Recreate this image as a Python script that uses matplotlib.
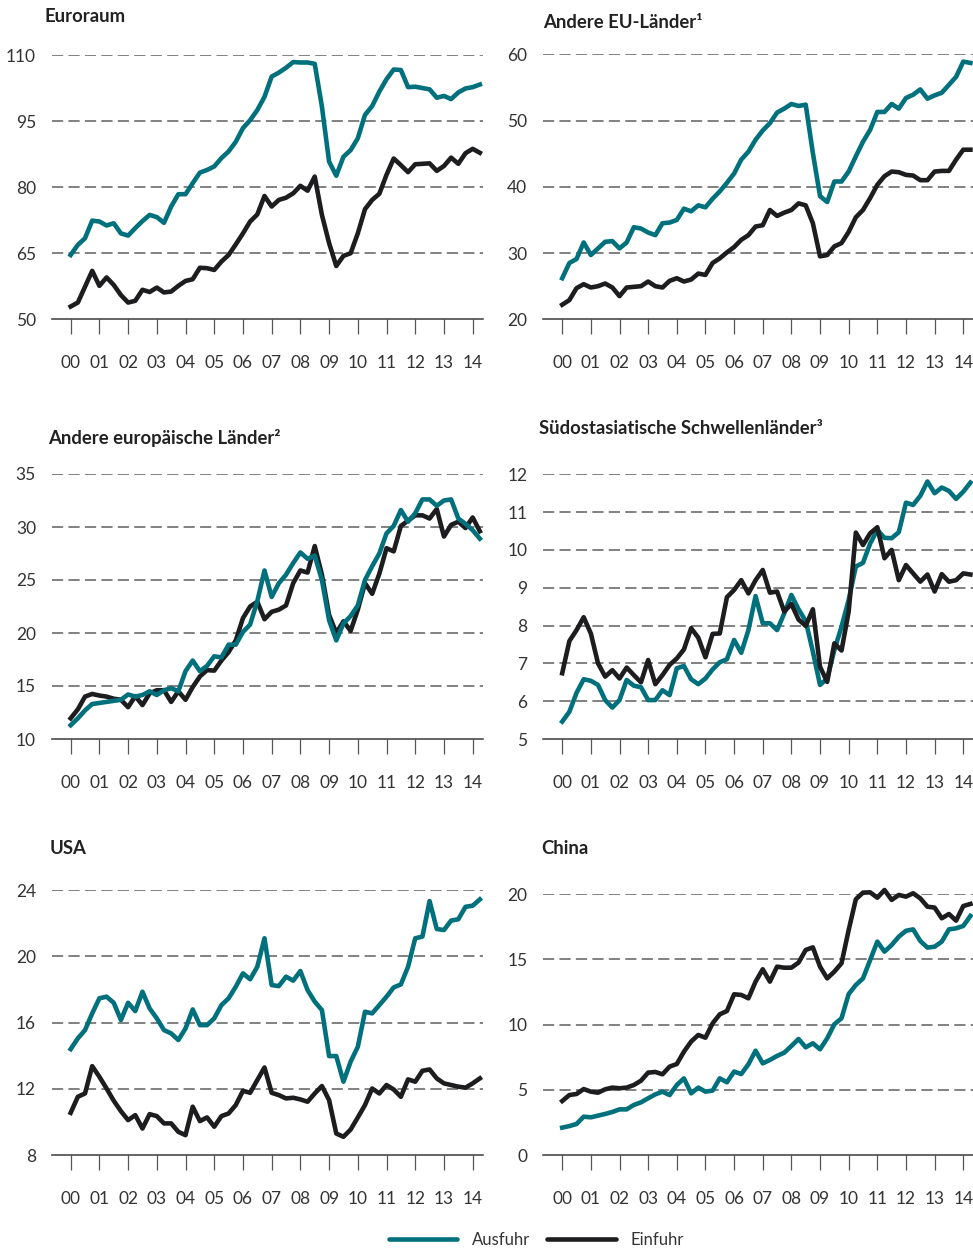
import matplotlib
matplotlib.use('Agg')
import matplotlib.pyplot as plt
import numpy as np

plt.rcParams['font.family'] = ['Lato', 'DejaVu Sans']

# Quartale 2000 Q1 bis 2014 Q2 (x in Jahren ab 2000)
quartale = np.arange(58) * 0.25
jahre = list(range(15))
jahr_labels = [f"{j:02d}" for j in jahre]

euro_aus = [64.6, 66.9, 68.4, 72.4, 72.2, 71.3, 71.8, 69.5, 69.0, 70.7, 72.3, 73.7, 73.2, 71.9, 75.6, 78.4,
            78.4, 80.9, 83.3, 83.9, 84.7, 86.6, 88.1, 90.3, 93.4, 95.2, 97.5, 100.5, 105.1, 106.0, 107.1, 108.4,
            108.3, 108.3, 108.0, 98.3, 85.8, 82.6, 86.9, 88.4, 91.1, 96.4, 98.4, 101.7, 104.5, 106.7, 106.6, 102.7,
            102.8, 102.5, 102.2, 100.3, 100.7, 100.0, 101.5, 102.4, 102.7, 103.3]
euro_ein = [52.9, 53.8, 57.4, 61.0, 57.6, 59.5, 57.8, 55.5, 53.8, 54.2, 56.7, 56.2, 57.2, 56.1, 56.3, 57.6,
            58.7, 59.1, 61.7, 61.6, 61.2, 63.1, 64.6, 67.0, 69.5, 72.2, 73.8, 78.0, 75.6, 77.1, 77.6, 78.6,
            80.3, 79.2, 82.4, 73.7, 67.3, 62.1, 64.4, 65.0, 69.5, 75.0, 77.1, 78.5, 82.8, 86.5, 85.0, 83.4,
            85.2, 85.3, 85.4, 83.7, 84.8, 86.7, 85.3, 87.7, 88.7, 87.8]

eu_aus = [26.2, 28.5, 29.1, 31.6, 29.7, 30.7, 31.7, 31.8, 30.7, 31.6, 33.9, 33.7, 33.1, 32.7, 34.5, 34.6,
          35.0, 36.7, 36.3, 37.2, 36.9, 38.2, 39.3, 40.6, 42.0, 44.1, 45.3, 47.1, 48.5, 49.6, 51.2, 51.8,
          52.5, 52.2, 52.4, 45.1, 38.6, 37.7, 40.8, 40.8, 42.3, 44.6, 46.8, 48.6, 51.3, 51.3, 52.5, 51.8,
          53.4, 53.9, 54.7, 53.3, 53.8, 54.2, 55.4, 56.6, 58.9, 58.7]
eu_ein = [22.2, 22.9, 24.7, 25.3, 24.8, 25.0, 25.4, 24.8, 23.5, 24.8, 24.9, 25.0, 25.7, 25.0, 24.8, 25.8,
          26.2, 25.7, 26.0, 26.9, 26.7, 28.5, 29.2, 30.1, 30.9, 32.0, 32.7, 34.0, 34.2, 36.5, 35.6, 36.1,
          36.5, 37.5, 37.2, 34.5, 29.5, 29.7, 31.0, 31.5, 33.2, 35.4, 36.5, 38.3, 40.3, 41.6, 42.3, 42.2,
          41.8, 41.7, 41.0, 41.0, 42.3, 42.4, 42.4, 44.1, 45.6, 45.6]

europa_aus = [11.3, 11.95, 12.7, 13.3, 13.4, 13.5, 13.6, 13.7, 14.2, 14.0, 14.15, 14.5, 14.15, 14.6, 14.8, 14.5,
              16.4, 17.4, 16.4, 16.9, 17.8, 17.7, 18.9, 18.9, 20.1, 20.8, 23.0, 25.9, 23.4, 24.7, 25.5, 26.6,
              27.6, 27.0, 27.3, 25.0, 21.2, 19.3, 20.9, 21.6, 22.6, 25.0, 26.3, 27.5, 29.4, 30.1, 31.6, 30.5,
              31.3, 32.6, 32.6, 32.0, 32.5, 32.6, 30.8, 30.3, 29.7, 28.9]
europa_ein = [11.95, 12.8, 14.0, 14.25, 14.1, 14.0, 13.8, 13.7, 13.0, 14.05, 13.2, 14.3, 14.6, 14.6, 13.5, 14.5,
              13.7, 14.9, 15.9, 16.5, 16.45, 17.4, 18.2, 19.3, 21.4, 22.5, 22.95, 21.3, 22.0, 22.2, 22.6, 24.7,
              25.9, 25.7, 28.2, 25.5, 21.7, 20.0, 21.1, 20.2, 22.2, 24.7, 23.7, 25.6, 28.0, 27.7, 30.1, 30.6,
              31.1, 31.1, 30.8, 31.7, 29.1, 30.2, 30.5, 29.9, 30.9, 29.6]

asien_aus = [5.46, 5.72, 6.22, 6.58, 6.54, 6.43, 6.03, 5.83, 6.03, 6.56, 6.41, 6.37, 6.03, 6.03, 6.29, 6.16,
             6.87, 6.93, 6.58, 6.45, 6.60, 6.84, 7.03, 7.11, 7.62, 7.28, 7.88, 8.78, 8.06, 8.06, 7.88, 8.32,
             8.81, 8.43, 8.12, 7.31, 6.43, 6.60, 7.35, 7.97, 8.68, 9.56, 9.66, 10.17, 10.53, 10.32, 10.31, 10.47,
             11.25, 11.19, 11.43, 11.81, 11.50, 11.65, 11.56, 11.35, 11.54, 11.78]
asien_ein = [6.74, 7.59, 7.88, 8.22, 7.79, 7.0, 6.65, 6.82, 6.60, 6.89, 6.69, 6.50, 7.09, 6.45, 6.69, 6.96,
             7.13, 7.37, 7.93, 7.68, 7.16, 7.78, 7.79, 8.75, 8.94, 9.20, 8.85, 9.20, 9.47, 8.87, 8.90, 8.37,
             8.57, 8.16, 7.99, 8.43, 6.91, 6.51, 7.53, 7.34, 8.37, 10.46, 10.13, 10.44, 10.60, 9.78, 10.0, 9.20,
             9.60, 9.38, 9.16, 9.35, 8.90, 9.36, 9.16, 9.20, 9.38, 9.35]

usa_aus = [14.4, 15.05, 15.55, 16.56, 17.47, 17.57, 17.2, 16.16, 17.2, 16.7, 17.87, 16.86, 16.26, 15.55, 15.35, 14.95,
           15.65, 16.8, 15.85, 15.85, 16.26, 17.06, 17.47, 18.17, 18.98, 18.62, 19.38, 21.1, 18.27, 18.21, 18.78, 18.54,
           19.12, 17.97, 17.27, 16.76, 13.98, 13.98, 12.43, 13.64, 14.54, 16.66, 16.56, 17.06, 17.57, 18.13, 18.31, 19.38,
           21.1, 21.2, 23.35, 21.66, 21.6, 22.17, 22.25, 23.0, 23.07, 23.45]
usa_ein = [10.55, 11.52, 11.72, 13.37, 12.73, 12.02, 11.28, 10.65, 10.11, 10.41, 9.6, 10.47, 10.35, 9.91, 9.91, 9.4,
           9.2, 10.92, 10.05, 10.27, 9.71, 10.35, 10.51, 11.02, 11.88, 11.76, 12.53, 13.29, 11.76, 11.62, 11.42, 11.46,
           11.36, 11.22, 11.72, 12.17, 11.32, 9.3, 9.1, 9.54, 10.27, 11.02, 12.02, 11.72, 12.23, 11.96, 11.52, 12.57,
           12.43, 13.09, 13.17, 12.63, 12.33, 12.23, 12.13, 12.07, 12.33, 12.63]

china_aus = [2.1, 2.22, 2.38, 2.94, 2.89, 3.02, 3.15, 3.3, 3.5, 3.5, 3.84, 4.04, 4.35, 4.65, 4.86, 4.6,
             5.37, 5.88, 4.73, 5.17, 4.86, 4.94, 5.88, 5.58, 6.4, 6.21, 6.96, 8.0, 7.03, 7.29, 7.6, 7.85,
             8.36, 8.9, 8.26, 8.57, 8.11, 8.95, 10.03, 10.49, 12.35, 13.04, 13.55, 14.96, 16.37, 15.6, 16.11, 16.75,
             17.2, 17.31, 16.42, 15.91, 15.98, 16.37, 17.31, 17.39, 17.57, 18.34]
china_ein = [4.14, 4.6, 4.68, 5.06, 4.86, 4.78, 5.04, 5.17, 5.12, 5.17, 5.37, 5.7, 6.32, 6.37, 6.19, 6.78,
             6.98, 7.93, 8.7, 9.21, 9.0, 10.1, 10.79, 11.05, 12.33, 12.28, 12.02, 13.3, 14.25, 13.3, 14.45, 14.37,
             14.37, 14.76, 15.73, 15.93, 14.45, 13.55, 14.07, 14.71, 17.26, 19.62, 20.13, 20.15, 19.74, 20.33, 19.57, 19.95,
             19.82, 20.08, 19.69, 19.05, 18.98, 18.16, 18.49, 17.98, 19.1, 19.26]

titel = ["Euroraum", "Andere EU-Länder¹", "Andere europäische Länder²",
         "Südostasiatische Schwellenländer³", "USA", "China"]
y_ticks = [[50, 65, 80, 95, 110], [20, 30, 40, 50, 60], [10, 15, 20, 25, 30, 35],
           [5, 6, 7, 8, 9, 10, 11, 12], [8, 12, 16, 20, 24], [0, 5, 10, 15, 20]]
serien = [(euro_aus, euro_ein), (eu_aus, eu_ein), (europa_aus, europa_ein),
          (asien_aus, asien_ein), (usa_aus, usa_ein), (china_aus, china_ein)]

TEAL = '#00717c'
SCHWARZ = '#1d1d1f'
W, H = 973, 1252

# Panel-Rahmen in Pixeln: (links, rechts, oben, unten), Titel-Position (x, y)
rahmen = [(52, 483, 55, 319.3), (543.3, 973, 54.3, 319.3),
          (52, 483, 474, 739), (543.3, 973, 474.3, 739),
          (52, 483, 890.3, 1155), (543.3, 973, 894.3, 1155)]
titel_pos = [(44, 16), (543, 23), (48, 438), (539, 429), (50, 848), (541, 848)]
x_pad = [(-0.65, 14.36), (-0.66, 14.34)] * 3

fig = plt.figure(figsize=(W / 100, H / 100), dpi=100)

for i in range(6):
    l, r, t, b = rahmen[i]
    ax = fig.add_axes([l / W, 1 - b / H, (r - l) / W, (b - t) / H])
    aus, ein = serien[i]
    # Reihenfolge der Linien wie im Original (Europa: Ausfuhr oben)
    z_aus, z_ein = (4, 3) if i == 2 else (3, 4)
    ax.plot(quartale, aus, color=TEAL, lw=3.3, solid_joinstyle='round', label='Ausfuhr',
            zorder=z_aus, clip_on=False)
    ax.plot(quartale, ein, color=SCHWARZ, lw=3.3, solid_joinstyle='round', label='Einfuhr',
            zorder=z_ein, clip_on=False)

    yt = y_ticks[i]
    ax.set_ylim(yt[0], yt[-1])
    ax.set_xlim(*x_pad[i])
    ax.set_yticks(yt)
    ax.set_xticks(jahre)
    ax.set_xticklabels(jahr_labels)
    for v in yt[1:]:
        ax.axhline(v, color='#666666', lw=1.15, ls=(0, (7, 3.3)), zorder=1)
    for s in ['top', 'right', 'left']:
        ax.spines[s].set_visible(False)
    ax.spines['bottom'].set_color('#3a3a3a')
    ax.spines['bottom'].set_linewidth(1.1)
    ax.tick_params(axis='x', length=11, width=0.9, color='#555555', pad=15,
                   labelsize=12.5, labelcolor='#333333')
    ax.tick_params(axis='y', length=0, pad=11.5, labelsize=12.5, labelcolor='#333333')
    ax.patch.set_visible(False)

    tx, ty = titel_pos[i]
    fig.text(tx / W, 1 - ty / H, titel[i], fontsize=13.3, fontweight='bold',
             color='#222222', ha='left', va='center')

    if i == 0:
        h_aus = ax.get_lines()[0]
        h_ein = ax.get_lines()[1]

leg = fig.legend([h_aus, h_ein], ['Ausfuhr', 'Einfuhr'], loc='center', ncol=2,
                 bbox_to_anchor=(536.5 / W, 1 - 1240 / H), frameon=False,
                 fontsize=12, handlelength=4.1, handletextpad=0.9, columnspacing=1.0,
                 borderpad=0, borderaxespad=0)
for line in leg.get_lines():
    line.set_linewidth(3.3)
    line.set_solid_capstyle('round')
for txt in leg.get_texts():
    txt.set_color('#333333')

fig.savefig('out.png', dpi=100)
